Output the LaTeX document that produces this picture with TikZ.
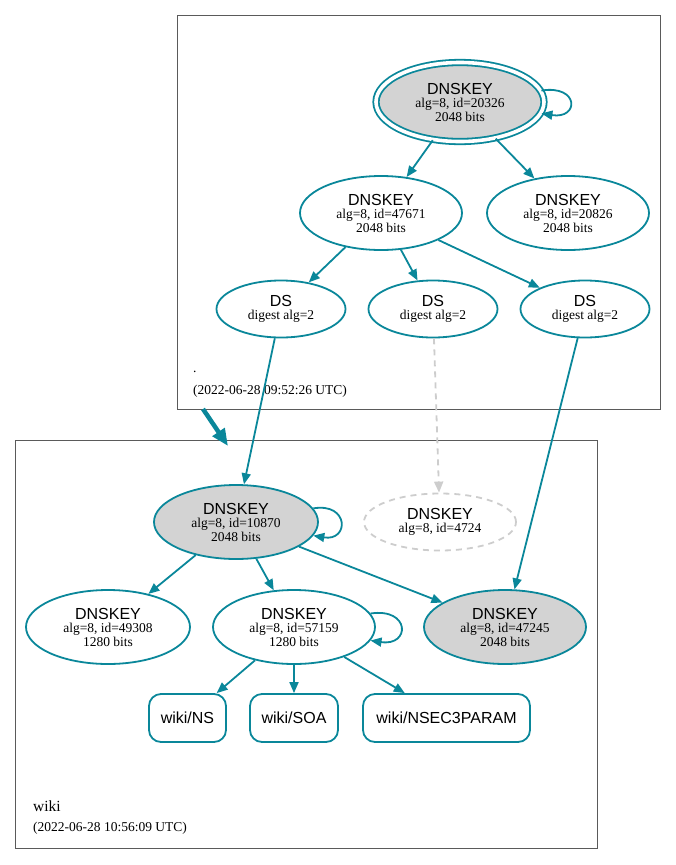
\documentclass[tikz,border=0pt]{standalone}
\usepackage{fontspec}
\setmainfont{Liberation Serif}
\newfontfamily\keyfont{Liberation Sans}
\definecolor{SecureTeal}{RGB}{10, 135, 154}
\definecolor{KeyGray}{RGB}{211, 211, 211}
\definecolor{FrameGray}{RGB}{90, 90, 90}
\definecolor{FadedGray}{RGB}{205, 205, 205}
\usetikzlibrary{arrows.meta, shapes.geometric}

\begin{document}
\begin{tikzpicture}[
        x=1pt, y=-1pt,
        every node/.style={font=\fontsize{13.5}{13.5}\selectfont},
        zone/.style={rectangle, draw=FrameGray, line width=0.8pt, inner sep=0pt},
        zonelabel/.style={anchor=base west, inner sep=0pt},
        dnskey/.style={ellipse, draw=SecureTeal, line width=1.8pt, minimum width=162pt, minimum height=74pt, inner sep=0pt, align=center},
        dsnode/.style={ellipse, draw=SecureTeal, line width=1.8pt, minimum width=129pt, minimum height=57pt, inner sep=0pt, align=center},
        rrset/.style={rectangle, rounded corners=12pt, draw=SecureTeal, line width=1.8pt, minimum height=48pt, inner sep=0pt, font=\keyfont\fontsize{16}{16}\selectfont},
        secure/.style={-{Triangle[length=11pt, width=9pt]}, draw=SecureTeal, line width=1.8pt},
        faded/.style={-{Triangle[length=11pt, width=9pt]}, draw=FadedGray, line width=1.8pt, dash pattern=on 6pt off 5pt},
        delegation/.style={-{Triangle[length=17pt, width=14pt]}, draw=SecureTeal, line width=4.5pt}
    ]
        \useasboundingbox (0,0) rectangle (676,865);

        % Zones
        \node[zone, minimum width=483pt, minimum height=394pt] (rootzone) at (418.5,212) {};
        \node[zone, minimum width=582pt, minimum height=408pt] (wikizone) at (306,644) {};
        \node[zonelabel] (rootname) at (193,372) {.};
        \node[zonelabel] (rootdate) at (193,394) {(2022-06-28 09:52:26 UTC)};
        \node[zonelabel, font=\fontsize{15.5}{15.5}\selectfont] (wikiname) at (33,811) {wiki};
        \node[zonelabel] (wikidate) at (33,831) {(2022-06-28 10:56:09 UTC)};

        % Root keys
        \node[dnskey, fill=KeyGray, double=white, double distance=3.6pt, minimum width=168pt, minimum height=79pt] (k20326) at (460,102)
            {{\keyfont\fontsize{16}{16}\selectfont DNSKEY}\\alg=8, id=20326\\2048 bits};
        \node[dnskey] (k47671) at (381,213) {{\keyfont\fontsize{16}{16}\selectfont DNSKEY}\\alg=8, id=47671\\2048 bits};
        \node[dnskey] (k20826) at (568,213) {{\keyfont\fontsize{16}{16}\selectfont DNSKEY}\\alg=8, id=20826\\2048 bits};

        % DS records
        \node[dsnode] (dsa) at (281,309) {{\keyfont\fontsize{16}{16}\selectfont DS}\\digest alg=2};
        \node[dsnode] (dsb) at (433,309) {{\keyfont\fontsize{16}{16}\selectfont DS}\\digest alg=2};
        \node[dsnode] (dsc) at (585,309) {{\keyfont\fontsize{16}{16}\selectfont DS}\\digest alg=2};

        % Wiki keys
        \node[dnskey, fill=KeyGray, minimum width=164pt] (k10870) at (236,522) {{\keyfont\fontsize{16}{16}\selectfont DNSKEY}\\alg=8, id=10870\\2048 bits};
        \node[dnskey, draw=FadedGray, dash pattern=on 6pt off 5pt, minimum width=152pt, minimum height=57pt] (k4724) at (440,522)
            {{\keyfont\fontsize{16}{16}\selectfont DNSKEY}\\alg=8, id=4724};
        \node[dnskey, minimum width=164pt] (k49308) at (108,627) {{\keyfont\fontsize{16}{16}\selectfont DNSKEY}\\alg=8, id=49308\\1280 bits};
        \node[dnskey] (k57159) at (294,627) {{\keyfont\fontsize{16}{16}\selectfont DNSKEY}\\alg=8, id=57159\\1280 bits};
        \node[dnskey, fill=KeyGray] (k47245) at (505,627) {{\keyfont\fontsize{16}{16}\selectfont DNSKEY}\\alg=8, id=47245\\2048 bits};

        % RRsets
        \node[rrset, minimum width=77pt] (ns) at (187.5,718) {wiki/NS};
        \node[rrset, minimum width=88pt] (soa) at (294,718) {wiki/SOA};
        \node[rrset, minimum width=167pt] (nsec3param) at (446.5,718) {wiki/NSEC3PARAM};

        % Delegation
        \coordinate (delegtail) at (203,409);
        \coordinate (deleghead) at (228,446);
        \draw[delegation] (delegtail) -- (deleghead);

        % Arrows
        \draw[secure] (k20326.8) .. controls +(38,-6) and +(38,6) .. (k20326.-8);
        \draw[secure] (k20326) -- (k47671);
        \draw[secure] (k20326) -- (k20826);
        \draw[secure] (k47671) -- (dsa);
        \draw[secure] (k47671) -- (dsb);
        \draw[secure] (k47671) -- (dsc);
        \draw[secure] (dsa) -- (k10870);
        \draw[faded] (dsb) -- (k4724);
        \draw[secure] (dsc) -- (k47245);
        \draw[secure] (k10870.10) .. controls +(36,-6) and +(36,6) .. (k10870.-10);
        \draw[secure] (k10870) -- (k49308);
        \draw[secure] (k10870) -- (k57159);
        \draw[secure] (k10870) -- (k47245);
        \draw[secure] (k57159.10) .. controls +(40,-6) and +(40,6) .. (k57159.-10);
        \draw[secure] (k57159) -- (ns);
        \draw[secure] (k57159) -- (soa);
        \draw[secure] (k57159) -- (nsec3param);
    \end{tikzpicture}
\end{document}
